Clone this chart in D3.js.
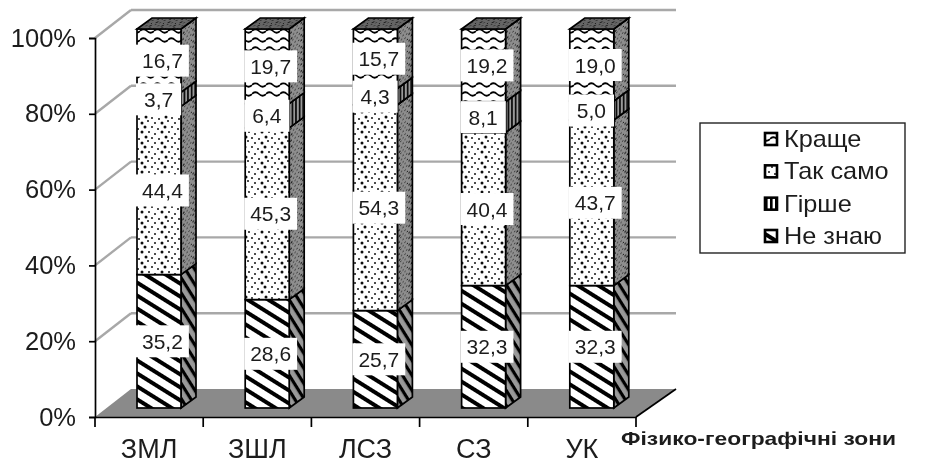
<!DOCTYPE html>
<html>
<head>
<meta charset="utf-8">
<script src="https://cdn.jsdelivr.net/npm/d3@7"></script>
<style>
  html, body { margin: 0; padding: 0; background: #fff; }
  svg { display: block; }
  text { font-family: "Liberation Sans", Arial, sans-serif; fill: #1c1c1c; }
</style>
</head>
<body>
<script>
const categories = ["ЗМЛ", "ЗШЛ", "ЛСЗ", "СЗ", "УК"];
const neZnayu = [35.2, 28.6, 25.7, 32.3, 32.3];
const takSamo = [44.4, 45.3, 54.3, 40.4, 43.7];
const hirshe = [3.7, 6.4, 4.3, 8.1, 5.0];
const krashche = [16.7, 19.7, 15.7, 19.2, 19.0];
const yTicks = [0, 20, 40, 60, 80, 100];
const legendLabels = ["Краще", "Так само", "Гірше", "Не знаю"];
const axisTitle = "Фізико-географічні зони";

const width = 929, height = 466;

const table = categories.map((c, i) => ({
  cat: c, neZnayu: neZnayu[i], takSamo: takSamo[i], hirshe: hirshe[i], krashche: krashche[i]
}));
const keys = ["neZnayu", "takSamo", "hirshe", "krashche"];
const stacked = d3.stack().keys(keys)(table);

const x = d3.scaleBand().domain(categories).range([95, 636]);
const y = d3.scaleLinear().domain([0, 100]).range([417, 38]);

// 3d offsets
const wall = {dx: 36, dy: -28};
const barDepth = {dx: 15, dy: -11};
const barFront = {dx: 42, dy: -9};
const barWidth = 44;

const svg = d3.select("body").append("svg")
  .attr("width", width)
  .attr("height", height);

const defs = svg.append("defs");

defs.append("filter").attr("id", "soft")
  .append("feGaussianBlur").attr("stdDeviation", 0.5);

function stripes(id, bg, size, thick, transform) {
  const p = defs.append("pattern").attr("id", id)
    .attr("patternUnits", "userSpaceOnUse")
    .attr("width", size).attr("height", size)
    .attr("patternTransform", transform);
  p.append("rect").attr("width", size).attr("height", size).attr("fill", bg);
  p.append("rect").attr("width", size).attr("height", thick).attr("fill", "#000");
}

function dots(id, bg, transform) {
  const p = defs.append("pattern").attr("id", id)
    .attr("patternUnits", "userSpaceOnUse")
    .attr("width", 20).attr("height", 20)
    .attr("patternTransform", transform);
  p.append("rect").attr("width", 20).attr("height", 20).attr("fill", bg);
  [[2, 3], [8, 1], [15, 3], [5, 7], [12, 7], [18, 9], [2, 12], [9, 12], [15, 14], [6, 17], [12, 18], [19, 19]]
    .forEach((d, i) => {
      p.append("circle").attr("cx", d[0]).attr("cy", d[1])
        .attr("r", i % 3 === 0 ? 1.5 : 1).attr("fill", "#111");
    });
}

function waves(id, bg) {
  const p = defs.append("pattern").attr("id", id)
    .attr("patternUnits", "userSpaceOnUse")
    .attr("width", 14).attr("height", 9);
  p.append("rect").attr("width", 14).attr("height", 9).attr("fill", bg);
  p.append("path").attr("d", "M0,4 Q3.5,0.5 7,4 T14,4")
    .attr("fill", "none").attr("stroke", "#000").attr("stroke-width", 1.7);
}

stripes("p-diag", "#fff", 11, 4, "rotate(32)");
stripes("p-diag-side", "#999", 8, 3.2, "rotate(58)");
dots("p-dots", "#fff", "");
dots("p-dots-side", "#8e8e8e", "skewY(-36) scale(0.6)");
dots("p-dots-top", "#666", "skewX(-50) scale(0.6)");
waves("p-wave", "#fff");

const vert = defs.append("pattern").attr("id", "p-vert")
  .attr("patternUnits", "userSpaceOnUse").attr("width", 5).attr("height", 5);
vert.append("rect").attr("width", 5).attr("height", 5).attr("fill", "#fff");
vert.append("rect").attr("width", 2.6).attr("height", 5).attr("fill", "#000");
const vertSide = defs.append("pattern").attr("id", "p-vert-side")
  .attr("patternUnits", "userSpaceOnUse").attr("width", 3.6).attr("height", 5);
vertSide.append("rect").attr("width", 3.6).attr("height", 5).attr("fill", "#999");
vertSide.append("rect").attr("width", 1.6).attr("height", 5).attr("fill", "#000");

const frontFill = {neZnayu: "url(#p-diag)", takSamo: "url(#p-dots)", hirshe: "url(#p-vert)", krashche: "url(#p-wave)"};
const sideFill = {neZnayu: "url(#p-diag-side)", takSamo: "url(#p-dots-side)", hirshe: "url(#p-vert-side)", krashche: "url(#p-dots-side)"};

const chart = svg.append("g").attr("filter", "url(#soft)");

// back wall grid + left wall diagonals
const grid = chart.append("g");
grid.selectAll(".gridline").data(yTicks.slice(1)).enter().append("line")
  .attr("class", "gridline")
  .attr("x1", x.range()[0] + wall.dx).attr("x2", x.range()[1] + wall.dx + 4)
  .attr("y1", d => y(d) + wall.dy).attr("y2", d => y(d) + wall.dy)
  .attr("stroke", "#a8a8a8").attr("stroke-width", 2.4);
grid.selectAll(".diag").data(yTicks.slice(1)).enter().append("line")
  .attr("class", "diag")
  .attr("x1", x.range()[0]).attr("x2", x.range()[0] + wall.dx)
  .attr("y1", d => y(d)).attr("y2", d => y(d) + wall.dy)
  .attr("stroke", "#a8a8a8").attr("stroke-width", 2.4);

// floor
chart.append("polygon")
  .attr("points", [
    [x.range()[0], y(0)],
    [x.range()[0] + wall.dx, y(0) + wall.dy],
    [x.range()[1] + wall.dx + 4, y(0) + wall.dy],
    [x.range()[1], y(0)]
  ].join(" "))
  .attr("fill", "#8a8a8a");

// bars
const bars = chart.append("g");
stacked.forEach(layer => {
  const g = bars.append("g");
  layer.forEach(d => {
    const x0 = x(d.data.cat) + barFront.dx, x1 = x0 + barWidth;
    const yb = y(d[0]) + barFront.dy, yt = y(d[1]) + barFront.dy;
    g.append("polygon")
      .attr("points", [[x1, yb], [x1 + barDepth.dx, yb + barDepth.dy], [x1 + barDepth.dx, yt + barDepth.dy], [x1, yt]].join(" "))
      .attr("fill", sideFill[layer.key]).attr("stroke", "#000").attr("stroke-width", 1.7);
    g.append("rect")
      .attr("x", x0).attr("y", yt).attr("width", barWidth).attr("height", yb - yt)
      .attr("fill", frontFill[layer.key]).attr("stroke", "#000").attr("stroke-width", 1.7);
    if (layer.key === "krashche") {
      g.append("polygon")
        .attr("points", [[x0, yt], [x0 + barDepth.dx, yt + barDepth.dy], [x1 + barDepth.dx, yt + barDepth.dy], [x1, yt]].join(" "))
        .attr("fill", "url(#p-dots-top)").attr("stroke", "#000").attr("stroke-width", 1.7);
    }
  });
});

// value labels, box starts at the left edge of the bar
const labels = chart.append("g");
stacked.forEach(layer => {
  layer.forEach(d => {
    const left = x(d.data.cat) + barFront.dx - 1;
    const cy = y((d[0] + d[1]) / 2) + barFront.dy;
    const txt = d.data[layer.key].toFixed(1).replace(".", ",");
    const g = labels.append("g");
    const t = g.append("text").attr("y", cy + 7.5)
      .attr("text-anchor", "middle").attr("font-size", 21).text(txt);
    const len = t.node().getComputedTextLength();
    const w = len + (txt.length > 3 ? 12 : 16);
    t.attr("x", left + w / 2);
    g.insert("rect", "text").attr("x", left).attr("y", cy - 16).attr("width", w).attr("height", 32).attr("fill", "#fff");
  });
});

// axes
const yAxis = d3.axisLeft(y).tickValues(yTicks).tickFormat(d => d + "%").tickSize(6).tickPadding(13);
const yG = chart.append("g").attr("transform", "translate(" + x.range()[0] + ",0)").call(yAxis);
yG.selectAll("text").attr("font-size", 25.5).style("font-family", "inherit").attr("fill", "#1c1c1c");
yG.selectAll("line, path").attr("stroke", "#000").attr("stroke-width", 1.7);

const xAxis = d3.axisBottom(x).tickSize(0).tickPadding(22);
const xG = chart.append("g").attr("transform", "translate(0," + y(0) + ")").call(xAxis);
xG.selectAll("text").attr("font-size", 27).attr("dy", "0.71em").attr("fill", "#1c1c1c");
xG.select(".domain").attr("stroke", "#000").attr("stroke-width", 1.7);
xG.selectAll(".edge").data(categories.map(c => x(c)).concat(x.range()[1])).enter().append("line")
  .attr("class", "edge").attr("x1", d => d).attr("x2", d => d).attr("y1", 0).attr("y2", 10)
  .attr("stroke", "#000").attr("stroke-width", 1.7);

// floor right edge
chart.append("line")
  .attr("x1", x.range()[1]).attr("y1", y(0))
  .attr("x2", x.range()[1] + wall.dx + 4).attr("y2", y(0) + wall.dy)
  .attr("stroke", "#000").attr("stroke-width", 1.7);

chart.append("text")
  .attr("x", 621).attr("y", 445)
  .attr("font-size", 19).attr("font-weight", "bold")
  .attr("textLength", 275).attr("lengthAdjust", "spacingAndGlyphs")
  .text(axisTitle);

// legend
const legend = chart.append("g");
legend.append("rect").attr("x", 700).attr("y", 123).attr("width", 205).attr("height", 130)
  .attr("fill", "#fff").attr("stroke", "#222").attr("stroke-width", 1.4);

const legendY = d3.scalePoint().domain(legendLabels).range([139, 236]);
const legendFill = {"Краще": "url(#p-wave)", "Так само": "url(#p-dots)", "Гірше": "url(#p-vert)", "Не знаю": "url(#p-diag)"};
legendLabels.forEach(l => {
  legend.append("rect").attr("x", 765).attr("y", legendY(l) - 6).attr("width", 12).attr("height", 12)
    .attr("fill", legendFill[l]).attr("stroke", "#000").attr("stroke-width", 2.6);
  legend.append("text").attr("transform", "translate(784," + (legendY(l) + 8) + ") scale(1.1,1)")
    .attr("font-size", 23).text(l);
});
</script>
</body>
</html>
